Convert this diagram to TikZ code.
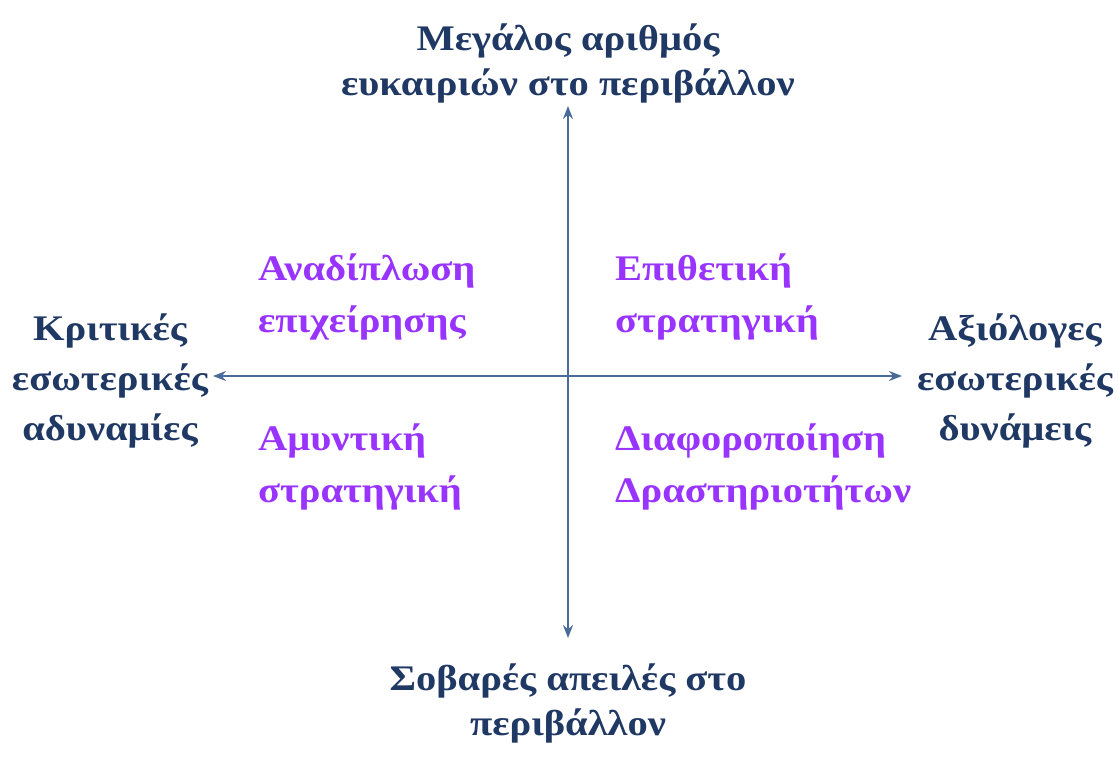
\documentclass[tikz,border=0pt]{standalone}
\usepackage{fontspec}
\setmainfont[FakeStretch=1.125]{Liberation Serif}
\usetikzlibrary{arrows.meta}
\definecolor{navy}{HTML}{1F3864}
\definecolor{axisblue}{HTML}{4A6B9A}
\definecolor{quadpurple}{HTML}{9933FF}
\tikzset{
  axislabel/.style={text=navy, font=\fontsize{36}{45}\selectfont\bfseries, align=center, inner sep=0pt},
  sidelabel/.style={axislabel, font=\fontsize{36}{50}\selectfont\bfseries},
  quadlabel/.style={text=quadpurple, font=\fontsize{36}{52}\selectfont\bfseries, align=left, anchor=west, inner sep=0pt},
  axisline/.style={draw=axisblue, line width=1.8pt, -{Stealth[length=13pt,width=10pt]}}
}
\begin{document}
\begin{tikzpicture}[x=1pt,y=-1pt]
\useasboundingbox[fill=white] (0,0) rectangle (1118,771);
\coordinate (c) at (568,376);
\coordinate (top) at (568,106);
\coordinate (bot) at (568,638);
\coordinate (lft) at (213,376);
\coordinate (rgt) at (902,376);
\draw[axisline] (c) -- (top);
\draw[axisline] (c) -- (bot);
\draw[axisline] (c) -- (lft);
\draw[axisline] (c) -- (rgt);
\node[axislabel] (tl) at (568,63) {Μεγάλος αριθμός\\ευκαιριών στο περιβάλλον};
\node[axislabel] (bl) at (568,703) {Σοβαρές απειλές στο\\περιβάλλον};
\node[sidelabel] (ll) at (110,381) {Κριτικές\\εσωτερικές\\αδυναμίες};
\node[sidelabel] (rl) at (1015,381) {Αξιόλογες\\εσωτερικές\\δυνάμεις};
\node[quadlabel] (q1) at (258,297) {Αναδίπλωση\\επιχείρησης};
\node[quadlabel] (q2) at (615,297) {Επιθετική\\στρατηγική};
\node[quadlabel] (q3) at (258,467) {Αμυντική\\στρατηγική};
\node[quadlabel] (q4) at (615,467) {Διαφοροποίηση\\Δραστηριοτήτων};
\end{tikzpicture}
\end{document}
